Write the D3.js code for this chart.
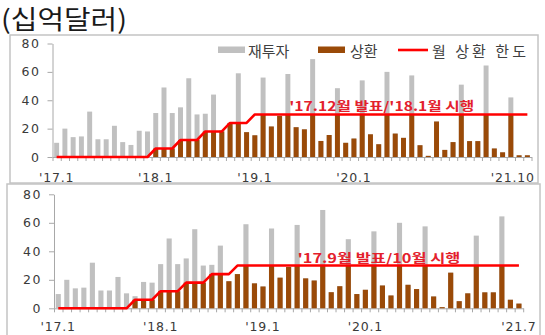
<!DOCTYPE html>
<html><head><meta charset="utf-8">
<script src="https://cdn.jsdelivr.net/npm/d3@7"></script>
<style>
html,body{margin:0;padding:0;background:#fff;}
svg{display:block;}
</style></head><body>
<svg id="chart" width="545" height="335"></svg>
<script>
// Monthly categories, Jan 2017 – Oct 2021 (upper) and Jan 2017 – Jul 2021 (lower)
const monthsTop = [
  "17.1","17.2","17.3","17.4","17.5","17.6","17.7","17.8","17.9","17.10","17.11","17.12",
  "18.1","18.2","18.3","18.4","18.5","18.6","18.7","18.8","18.9","18.10","18.11","18.12",
  "19.1","19.2","19.3","19.4","19.5","19.6","19.7","19.8","19.9","19.10","19.11","19.12",
  "20.1","20.2","20.3","20.4","20.5","20.6","20.7","20.8","20.9","20.10","20.11","20.12",
  "21.1","21.2","21.3","21.4","21.5","21.6","21.7","21.8","21.9","21.10"
];
const monthsBottom = [
  "17.1","17.2","17.3","17.4","17.5","17.6","17.7","17.8","17.9","17.10","17.11","17.12",
  "18.1","18.2","18.3","18.4","18.5","18.6","18.7","18.8","18.9","18.10","18.11","18.12",
  "19.1","19.2","19.3","19.4","19.5","19.6","19.7","19.8","19.9","19.10","19.11","19.12",
  "20.1","20.2","20.3","20.4","20.5","20.6","20.7","20.8","20.9","20.10","20.11","20.12",
  "21.1","21.2","21.3","21.4","21.5","21.6","21.7"
];

// 재투자 (billion USD)
const reinvest = [
  10, 20, 14, 14.5, 32, 12.5, 12.5, 22, 10.5, 8.5,
  18.5, 18, 31, 49, 31, 35, 55.5, 30, 30.5, 44,
  19, 24, 59, 17.5, 15.3, 56, 21.5, 29, 58.5, 21,
  19.5, 69, 11.3, 15.5, 48.5, 10, 13, 54, 16, 9,
  60, 16.5, 13.5, 57.5, 8.3, 0.8, 25, 5, 10.5, 51,
  11.2, 11.2, 64.5, 6, 3.3, 42, 1.2, 1.2
];

// 상환 under the '17.12 / '18.1 schedule
const repayTop = [
  0, 0, 0, 0, 0, 0, 0, 0, 0, 0, 0, 0,
  6, 6, 6, 12, 12, 12, 18, 18, 18, 24, 24, 17.5,
  15.3, 30, 21.5, 29, 30, 21, 19.5, 30, 11.3, 15.5,
  30, 10, 13, 30, 16, 9, 30, 16.5, 13.5, 30,
  8.3, 0.8, 25, 5, 10.5, 30, 11.2, 11.2, 30, 6,
  3.3, 30, 1.2, 1.2
];
// 상환 under the '17.9 / 10월 schedule
const repayBottom = [
  0, 0, 0, 0, 0, 0, 0, 0, 0,
  6, 6, 6, 12, 12, 12, 18, 18, 18, 24, 24, 19,
  24, 30, 17.5, 15.3, 30, 21.5, 29, 30, 21, 19.5,
  30, 11.3, 15.5, 30, 10, 13, 30, 16, 9, 30,
  16.5, 13.5, 30, 8.3, 0.8, 25, 5, 10.5, 30, 11.2,
  11.2, 30, 6, 3.3
];

// 월 상환 한도
const limitTop = [
  0, 0, 0, 0, 0, 0, 0, 0, 0, 0, 0, 0,
  6, 6, 6, 12, 12, 12, 18, 18, 18, 24, 24, 24,
  30, 30, 30, 30, 30, 30, 30, 30, 30, 30, 30, 30,
  30, 30, 30, 30, 30, 30, 30, 30, 30, 30, 30, 30,
  30, 30, 30, 30, 30, 30, 30, 30, 30, 30
];
const limitBottom = [
  0, 0, 0, 0, 0, 0, 0, 0, 0,
  6, 6, 6, 12, 12, 12, 18, 18, 18, 24, 24, 24,
  30, 30, 30, 30, 30, 30, 30, 30, 30, 30, 30, 30,
  30, 30, 30, 30, 30, 30, 30, 30, 30, 30, 30, 30,
  30, 30, 30, 30, 30, 30, 30, 30, 30, 30
];

const yTicks = [0, 20, 40, 60, 80];
const xTicksTop = ["17.1", "18.1", "19.1", "20.1", "21.10"];
const xTickLabelsTop = ["'17.1", "'18.1", "'19.1", "'20.1", "'21.10"];
const xTicksBottom = ["17.1", "18.1", "19.1", "20.1", "21.7"];
const xTickLabelsBottom = ["'17.1", "'18.1", "'19.1", "'20.1", "'21.7"];

const C = {
  reinvest: "#c0c0c0",
  repay: "#9a4a08",
  limit: "#ff0000",
  note: "#e3202c",
  axis: "#a8a8a8",
  frame: "#c4c4c4",
  text: "#3a3a3a"
};
const NUM_FONT = "'DejaVu Sans', Verdana, sans-serif";
const KR_FONT = "'Noto Sans CJK KR', 'Noto Sans', sans-serif";

const svg = d3.select("#chart");

// unit caption
svg.append("text")
  .attr("x", 1).attr("y", 29)
  .attr("font-family", KR_FONT).attr("font-size", 26)
  .attr("fill", "#1a1a1a")
  .attr("textLength", 126).attr("lengthAdjust", "spacingAndGlyphs")
  .text("(십억달러)");

function drawPanel(cfg) {
  const g = svg.append("g");

  g.append("rect")
    .attr("x", cfg.frame[0]).attr("y", cfg.frame[1])
    .attr("width", cfg.frame[2]).attr("height", cfg.frame[3])
    .attr("fill", "none").attr("stroke", C.frame).attr("stroke-width", 1.5);

  const x = d3.scaleBand().domain(cfg.months).range(cfg.xRange)
    .paddingInner(0.4).paddingOuter(0.2);
  const xEdge = d3.scaleLinear().domain([0, cfg.months.length]).range(cfg.xRange);
  const y = d3.scaleLinear().domain([0, 80]).range(cfg.yRange);
  const bw = x.bandwidth();
  const cx = m => x(m) + bw / 2;

  // y axis
  const yAxis = g.append("g")
    .attr("transform", `translate(${cfg.xRange[0]},0)`)
    .call(d3.axisLeft(y).tickValues(yTicks).tickSize(5).tickSizeOuter(0).tickPadding(7));
  yAxis.select(".domain").attr("stroke", C.axis);
  yAxis.selectAll(".tick line").attr("stroke", C.axis);
  yAxis.selectAll(".tick text")
    .attr("font-family", NUM_FONT).attr("font-size", 12.5)
    .attr("letter-spacing", 1.6).attr("fill", C.text);

  // x axis: tick marks between months
  const xAxis = g.append("g")
    .attr("transform", `translate(0,${y(0)})`)
    .call(d3.axisBottom(xEdge).tickValues(d3.range(cfg.months.length + 1))
      .tickSize(4).tickSizeOuter(0).tickFormat(""));
  xAxis.select(".domain").attr("stroke", C.axis);
  xAxis.selectAll(".tick line").attr("stroke", C.axis);

  // month labels
  const isLast = i => i === cfg.xTicks.length - 1 && cfg.lastLabelEnd;
  g.selectAll(".xlab").data(cfg.xTicks).enter().append("text")
    .attr("class", "xlab")
    .attr("x", (m, i) => isLast(i) ? x(m) + bw + cfg.lastLabelEnd : cx(m))
    .attr("y", cfg.xLabelY)
    .attr("text-anchor", (m, i) => isLast(i) ? "end" : "middle")
    .attr("font-family", NUM_FONT).attr("font-size", 12.5)
    .attr("letter-spacing", 0.8).attr("fill", C.text)
    .text((m, i) => cfg.xTickLabels[i]);

  // 재투자 bars
  g.selectAll(".bar-re").data(cfg.reinvest).enter().append("rect")
    .attr("x", (v, i) => x(cfg.months[i])).attr("width", bw)
    .attr("y", v => y(v)).attr("height", v => y(0) - y(v))
    .attr("fill", C.reinvest);

  // 상환 bars
  g.selectAll(".bar-rp").data(cfg.repay).enter().append("rect")
    .attr("x", (v, i) => x(cfg.months[i])).attr("width", bw)
    .attr("y", v => y(v)).attr("height", v => y(0) - y(v))
    .attr("fill", C.repay);

  // 월 상환 한도
  const line = d3.line().x((v, i) => cx(cfg.months[i])).y(v => y(v));
  g.append("path").datum(cfg.limit)
    .attr("d", line).attr("fill", "none")
    .attr("stroke", C.limit).attr("stroke-width", 2.6)
    .attr("stroke-linejoin", "round");

  // schedule note
  g.append("text")
    .attr("x", cx(cfg.note.month) + cfg.note.dx)
    .attr("y", y(cfg.note.value) - 3)
    .attr("text-anchor", "middle")
    .attr("font-family", KR_FONT).attr("font-size", 12.5).attr("font-weight", 700)
    .attr("fill", C.note)
    .attr("textLength", cfg.note.width).attr("lengthAdjust", "spacingAndGlyphs")
    .text(cfg.note.text);

  return g;
}

drawPanel({
  months: monthsTop, reinvest: reinvest, repay: repayTop, limit: limitTop,
  xTicks: xTicksTop, xTickLabels: xTickLabelsTop,
  xRange: [52.5, 531.5], yRange: [157, 43.5], xLabelY: 182, lastLabelEnd: 5,
  frame: [10, 35, 528, 148],
  note: { month: "20.4", dx: 3, value: 30, width: 185, text: "'17.12월 발표/'18.1월 시행" }
});

drawPanel({
  months: monthsBottom, reinvest: reinvest.slice(0, monthsBottom.length),
  repay: repayBottom, limit: limitBottom,
  xTicks: xTicksBottom, xTickLabels: xTickLabelsBottom,
  xRange: [54, 523.2], yRange: [308.3, 194.3], xLabelY: 331, lastLabelEnd: 0,
  frame: [7, 184, 533, 155],
  note: { month: "20.2", dx: 5, value: 30, width: 163, text: "'17.9월 발표/10월 시행" }
});

// legend
const legend = svg.append("g")
  .attr("font-family", KR_FONT).attr("font-size", 15).attr("fill", "#404040");
legend.append("rect").attr("x", 218).attr("y", 46.5).attr("width", 27).attr("height", 6.5).attr("fill", C.reinvest);
legend.append("text").attr("x", 248).attr("y", 57).text("재투자");
legend.append("rect").attr("x", 318).attr("y", 46.5).attr("width", 27).attr("height", 6.5).attr("fill", C.repay);
legend.append("text").attr("x", 350).attr("y", 57).text("상환");
legend.append("line").attr("x1", 398).attr("x2", 428).attr("y1", 50).attr("y2", 50)
  .attr("stroke", C.limit).attr("stroke-width", 2.6);
legend.append("text").attr("x", 432).attr("y", 57)
  .attr("textLength", 94).attr("lengthAdjust", "spacing").text("월 상환 한도");
</script>
</body></html>
